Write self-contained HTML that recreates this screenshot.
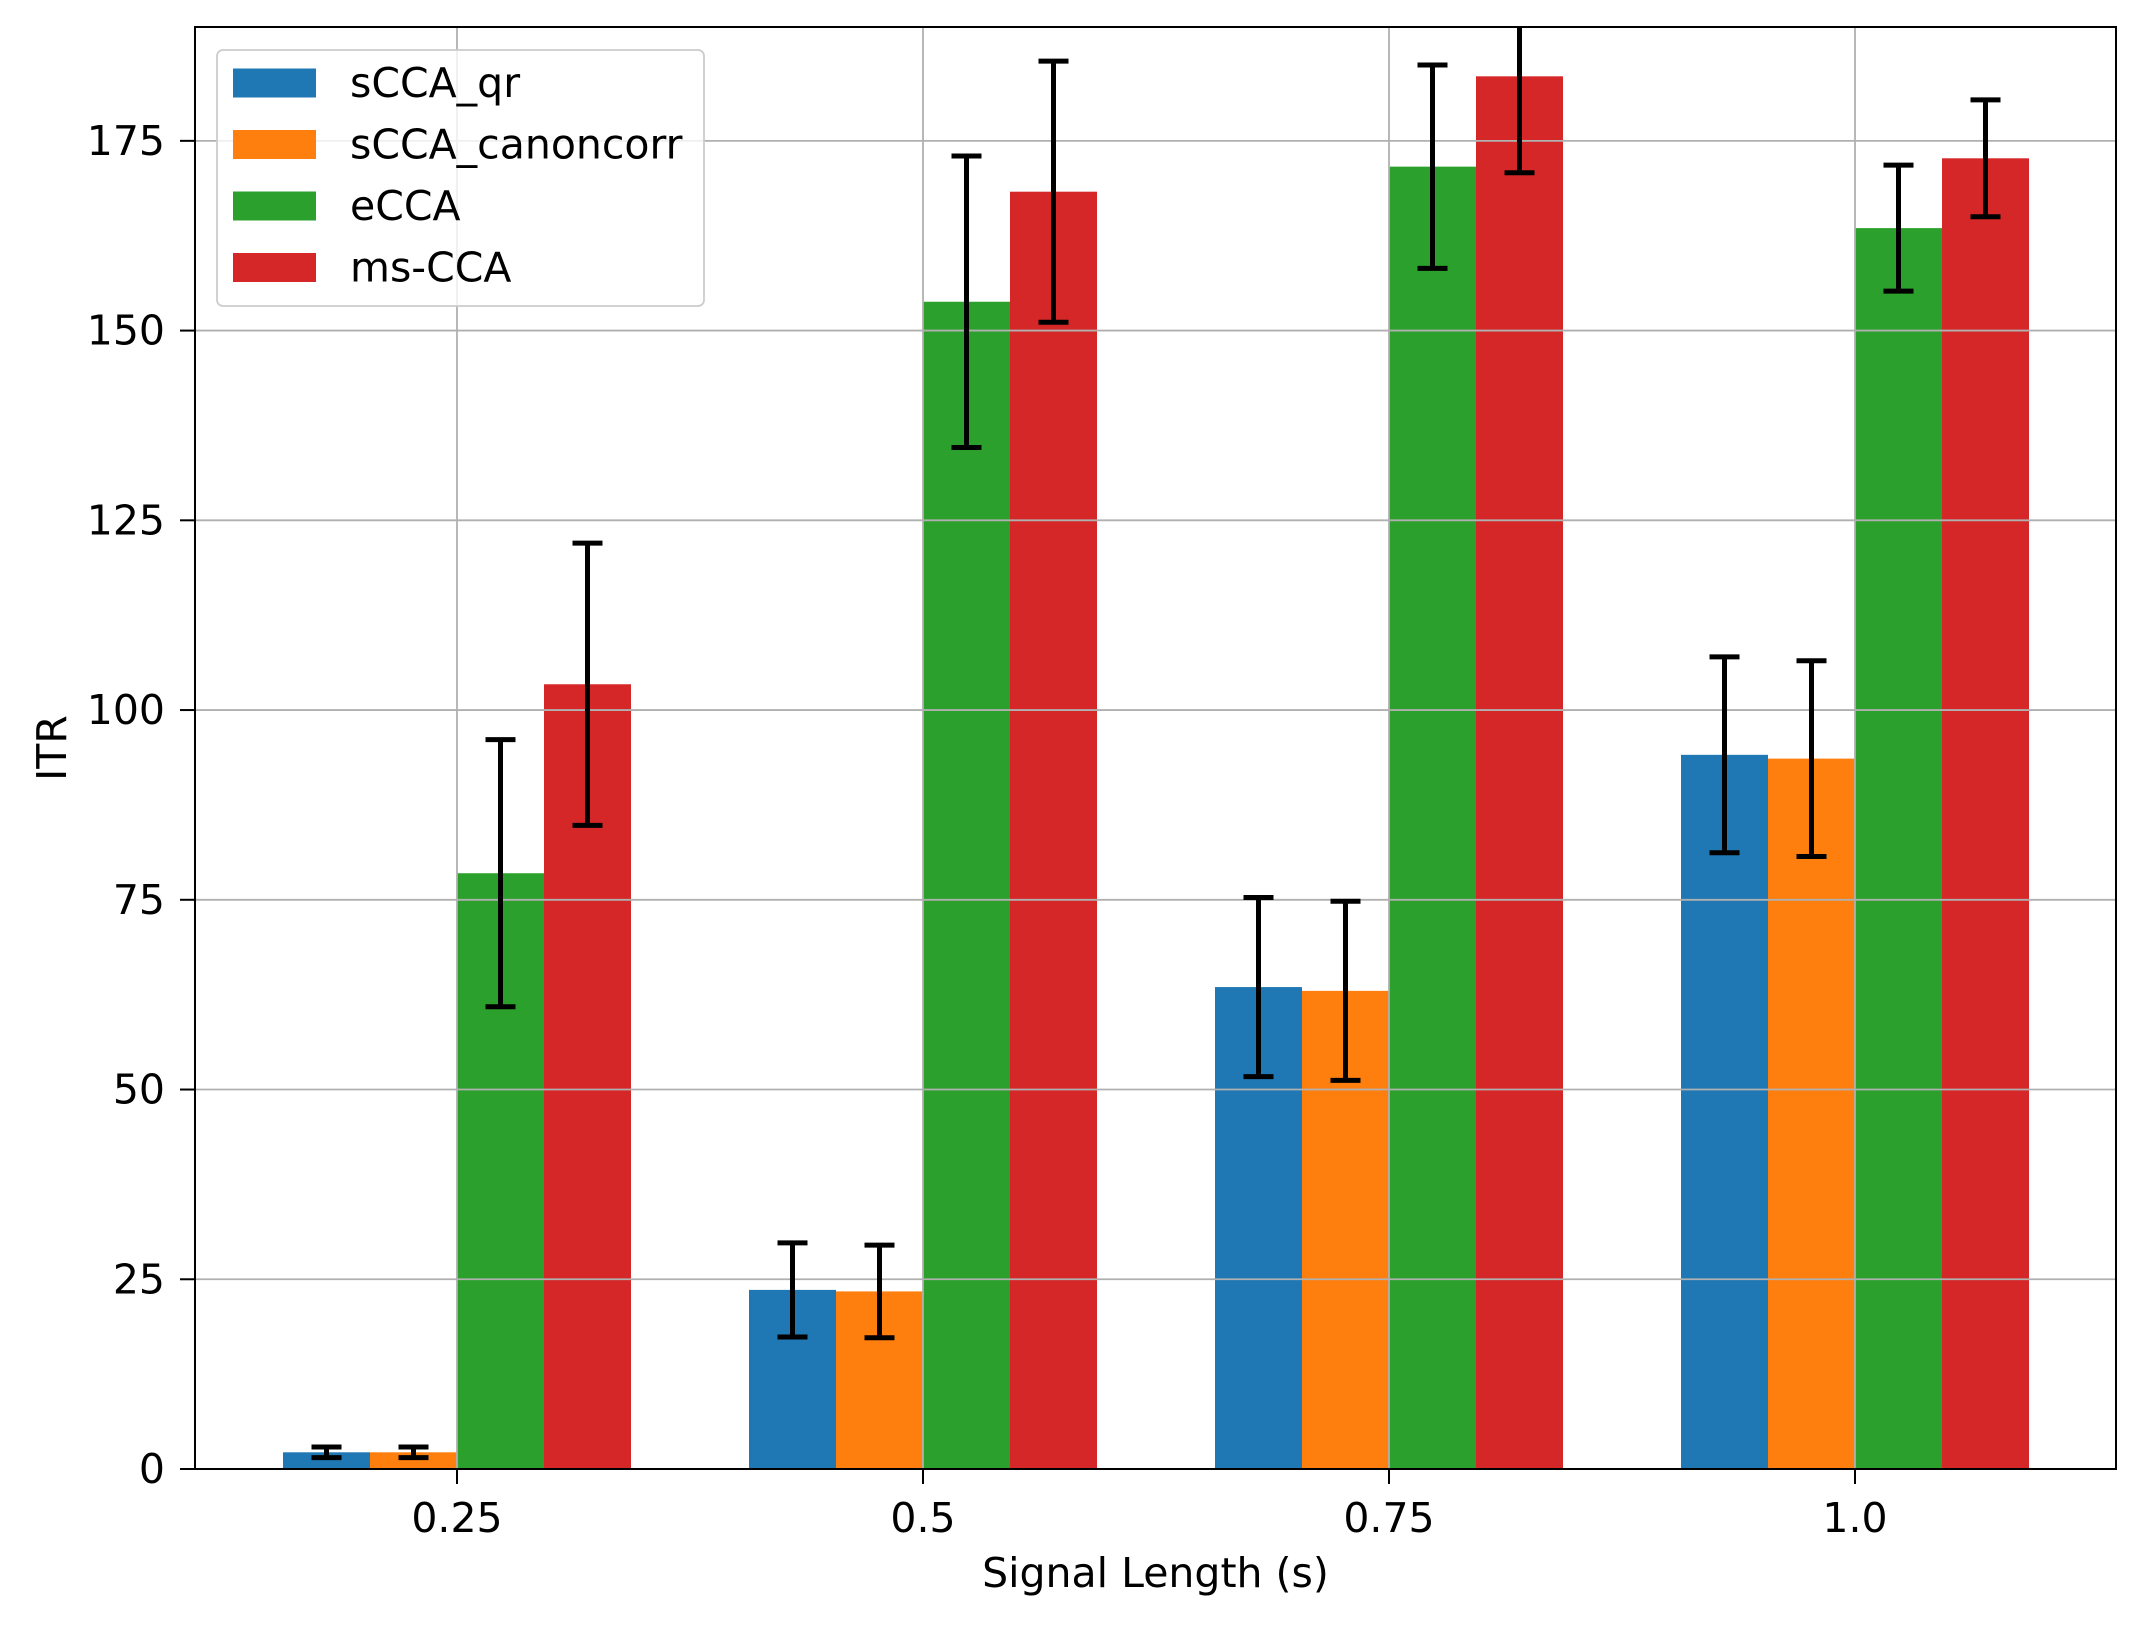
<!DOCTYPE html>
<html><head><meta charset="utf-8"><style>
html,body{margin:0;padding:0;background:#fff}
svg{display:block;font-family:"DejaVu Sans","Liberation Sans",sans-serif}
</style></head><body>
<svg id="chart" width="2145" height="1625" viewBox="0 0 2145 1625" xmlns="http://www.w3.org/2000/svg"></svg>
<script>
const categories = ["0.25", "0.5", "0.75", "1.0"];
const seriesNames = ["sCCA_qr", "sCCA_canoncorr", "eCCA", "ms-CCA"];
const seriesColors = ["#1f77b4", "#ff7f0e", "#2ca02c", "#d62728"];
const sccaQr = [2.2, 23.6, 63.5, 94.1];
const sccaQrErr = [0.7, 6.2, 11.8, 12.9];
const sccaCanon = [2.2, 23.4, 63.0, 93.6];
const sccaCanonErr = [0.7, 6.1, 11.8, 12.9];
const ecca = [78.5, 153.8, 171.6, 163.5];
const eccaErr = [17.6, 19.2, 13.4, 8.3];
const msCca = [103.4, 168.3, 183.5, 172.7];
const msCcaErr = [18.6, 17.2, 12.7, 7.7];
const yTicks = [0, 25, 50, 75, 100, 125, 150, 175];

const svg = document.getElementById('chart');
const NS = 'http://www.w3.org/2000/svg';
const L = 195, R = 2116, T = 27, B = 1469;
const yMax = 190;
const xs = i => 457 + i * 466;
const ys = v => B - (v / yMax) * (B - T);
const bw = 87;
const FS = 41;
function mk(tag, attrs, parent) {
  const e = document.createElementNS(NS, tag);
  for (const k in attrs) e.setAttribute(k, attrs[k]);
  (parent || svg).appendChild(e);
  return e;
}
const values = [sccaQr, sccaCanon, ecca, msCca];
const errs = [sccaQrErr, sccaCanonErr, eccaErr, msCcaErr];

for (let s = 0; s < 4; s++) {
  for (let i = 0; i < categories.length; i++) {
    const x0 = xs(i) + (s - 2) * bw;
    const r = mk('rect', {x: x0, y: ys(values[s][i]), width: bw, height: B - ys(values[s][i]), fill: seriesColors[s]});
    
    
  }
}
yTicks.forEach(t => {
  const g = mk('line', {x1: L, x2: R, y1: ys(t), y2: ys(t), stroke: '#b0b0b0', 'stroke-width': 1.8});
  
  
});
categories.forEach((c, i) => {
  const g = mk('line', {x1: xs(i), x2: xs(i), y1: T, y2: B, stroke: '#b0b0b0', 'stroke-width': 1.8});
  
  
});
const clip = mk('clipPath', {id: 'ax'});
mk('rect', {x: L, y: T, width: R - L, height: B - T}, clip);
const eg = mk('g', {'clip-path': 'url(#ax)'});


for (let s = 0; s < 4; s++) {
  for (let i = 0; i < categories.length; i++) {
    const cx = xs(i) + (s - 1.5) * bw;
    const lo = ys(values[s][i] - errs[s][i]), hi = ys(values[s][i] + errs[s][i]);
    mk('line', {x1: cx, x2: cx, y1: lo, y2: hi, stroke: '#000', 'stroke-width': 5}, eg);
    mk('line', {x1: cx - 15, x2: cx + 15, y1: lo, y2: lo, stroke: '#000', 'stroke-width': 5}, eg);
    mk('line', {x1: cx - 15, x2: cx + 15, y1: hi, y2: hi, stroke: '#000', 'stroke-width': 5}, eg);
  }
}
const fr = mk('rect', {x: L, y: T, width: R - L, height: B - T, fill: 'none', stroke: '#000', 'stroke-width': 2});


yTicks.forEach(t => {
  mk('line', {x1: L - 15, x2: L, y1: ys(t), y2: ys(t), stroke: '#000', 'stroke-width': 2});
  const tx = mk('text', {x: L - 30, y: ys(t) + 14, 'text-anchor': 'end', 'font-size': FS});
  tx.textContent = t;
  
  
});
categories.forEach((c, i) => {
  mk('line', {x1: xs(i), x2: xs(i), y1: B, y2: B + 15, stroke: '#000', 'stroke-width': 2});
  const tx = mk('text', {x: xs(i), y: 1532, 'text-anchor': 'middle', 'font-size': FS});
  tx.textContent = c;
  
  
});
const xl = mk('text', {x: (L + R) / 2, y: 1587, 'text-anchor': 'middle', 'font-size': FS});
xl.textContent = 'Signal Length (s)';


const yl = mk('text', {x: 0, y: 0, 'text-anchor': 'middle', 'font-size': FS, transform: 'translate(66,' + (T + B) / 2 + ') rotate(-90)'});
yl.textContent = 'ITR';


const lg = mk('g', {});


mk('rect', {x: 217, y: 50, width: 487, height: 256, rx: 6, fill: 'rgba(255,255,255,0.8)', stroke: '#cccccc', 'stroke-width': 1.8}, lg);
seriesNames.forEach((n, s) => {
  const cy = 83 + s * 61.5;
  const e = mk('g', {}, lg);
  
  
  mk('rect', {x: 233, y: cy - 14.5, width: 83, height: 29, fill: seriesColors[s]}, e);
  const t = mk('text', {x: 350, y: cy + 14, 'font-size': FS}, e);
  t.textContent = n;
});
</script>
</body></html>
